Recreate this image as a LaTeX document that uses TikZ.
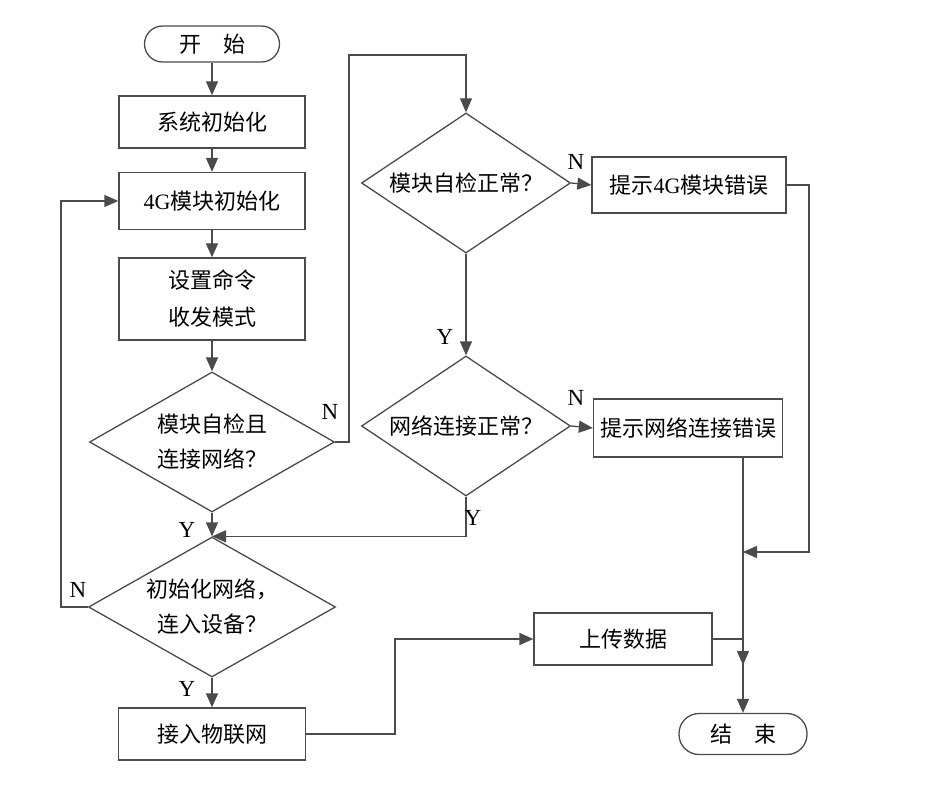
\documentclass[tikz,border=0pt]{standalone}
\usepackage{fontspec}
\setmainfont{Liberation Serif}
\newfontfamily\cjk{Noto Sans CJK SC}
\usepackage{tikz}
\usetikzlibrary{shapes.geometric}
\usetikzlibrary{arrows.meta}
\definecolor{linegray}{RGB}{75,75,75}

\begin{document}
\begin{tikzpicture}[x=1pt,y=-1pt,line width=1.3pt,draw=linegray,
    >={Triangle[length=14pt,width=12pt]},
    box/.style={draw=linegray,rectangle,inner sep=0pt,align=center,
      font=\cjk\fontsize{22}{37}\selectfont},
    term/.style={box,rounded corners=18pt},
    dia/.style={draw=linegray,diamond,aspect=1.75,inner sep=0pt,align=center,
      font=\cjk\fontsize{22}{35}\selectfont},
    yn/.style={font=\fontsize{23}{23}\selectfont,inner sep=0pt}]
    \useasboundingbox (0,0) rectangle (928,786);
    \node[term,minimum width=135pt,minimum height=36pt] (start) at (212,44) {开\hspace{1em}始};
    \node[box,minimum width=186pt,minimum height=52pt] (init) at (212,122) {系统初始化};
    \node[box,minimum width=186pt,minimum height=57pt] (mod) at (212,201) {{\rmfamily 4G}模块初始化};
    \node[box,minimum width=186pt,minimum height=82pt] (mode) at (212,299) {设置命令\\收发模式};
    \node[dia,minimum width=245pt,minimum height=140pt] (chk) at (212,442) {模块自检且\\连接网络？};
    \node[dia,minimum width=209pt,minimum height=140pt] (self) at (466,183) {模块自检正常？};
    \node[box,minimum width=194pt,minimum height=56pt] (err4g) at (689,185) {提示{\rmfamily 4G}模块错误};
    \node[dia,minimum width=209pt,minimum height=140pt] (net) at (466,426) {网络连接正常？};
    \node[box,minimum width=189pt,minimum height=58pt] (errnet) at (688,428) {提示网络连接错误};
    \node[dia,minimum width=247pt,minimum height=140pt] (conn) at (212,607) {初始化网络，\\连入设备？};
    \node[box,minimum width=187pt,minimum height=52pt] (iot) at (212,734) {接入物联网};
    \node[box,minimum width=178pt,minimum height=52pt] (up) at (623,639) {上传数据};
    \node[term,minimum width=128pt,minimum height=41pt,rounded corners=20pt] (end) at (743,734) {结\hspace{1em}束};

    \coordinate (c1) at (349,55);
    \coordinate (c2) at (61,607);
    \coordinate (c3) at (395,734);
    \coordinate (c4) at (809,552);
    \coordinate (c5) at (743,552);
    \coordinate (c6) at (743,639);
    \coordinate (c7) at (743,665);

    \draw[->] (start) -- (init);
    \draw[->] (init) -- (mod);
    \draw[->] (mod) -- (mode);
    \draw[->] (mode) -- (chk);
    \draw[->] (chk.east) -| (c1) -| (self.north);
    \draw[->] (self.east) -- (err4g.west);
    \draw[->] (self.south) -- (net.north);
    \draw[->] (net.east) -- (errnet.west);
    \draw[->] (net.south) |- (conn.north);
    \draw[->] (chk.south) -- (conn.north);
    \draw[->] (conn.west) -- (c2) |- (mod.west);
    \draw[->] (conn.south) -- (iot.north);
    \draw[->] (iot.east) -- (c3) |- (up.west);
    \draw[->] (err4g.east) -| (c4) -- (c5);
    \draw[->] (errnet.south -| end.north) -- (end.north);
    \draw[->] (up.east) -- (c6) -- (c7);

    \node[yn] (n1) at (330,412) {N};
    \node[yn] (n2) at (576,162) {N};
    \node[yn] (y1) at (445,337) {Y};
    \node[yn] (n3) at (576,398) {N};
    \node[yn] (y2) at (473,518) {Y};
    \node[yn] (y3) at (187,530) {Y};
    \node[yn] (n4) at (78,590) {N};
    \node[yn] (y4) at (187,689) {Y};
  \end{tikzpicture}
\end{document}
